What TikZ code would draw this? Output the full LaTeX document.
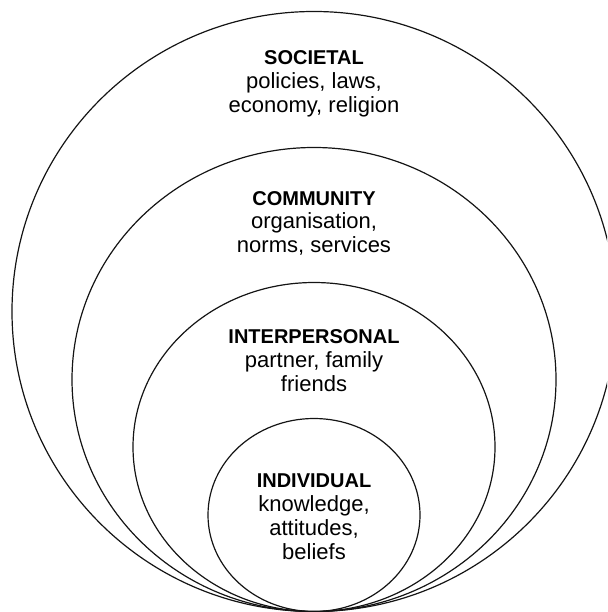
\documentclass[tikz,border=0pt]{standalone}
\usepackage{fontspec}
\setmainfont{Liberation Sans}
\begin{document}
\begin{tikzpicture}[x=1pt,y=-1pt,
  ring/.style={draw=black!92,line width=1.2pt},
  head/.style={anchor=base,inner sep=0pt,font=\fontsize{20}{24}\selectfont\bfseries},
  body/.style={anchor=base,inner sep=0pt,font=\fontsize{22}{26}\selectfont}]
  \useasboundingbox (0,0) rectangle (607,612);
  \clip (0,0) rectangle (607,612);
  % nested rings, all touching at the bottom
  \draw[ring] (314,311.5) ellipse [x radius=302,y radius=300];
  \draw[ring] (314,379.5) ellipse [x radius=242,y radius=232];
  \draw[ring] (314,447) ellipse [x radius=181,y radius=164.5];
  \draw[ring] (314,515) ellipse [x radius=106,y radius=96.5];
  % societal level
  \node[head] (soc) at (314,65) {SOCIETAL};
  \node[body] (soc1) at (314,89) {policies, laws,};
  \node[body] (soc2) at (314,112.5) {economy, religion};
  % community level
  \node[head] (com) at (314,205) {COMMUNITY};
  \node[body] (com1) at (314,228.5) {organisation,};
  \node[body] (com2) at (314,252) {norms, services};
  % interpersonal level
  \node[head] (int) at (314,343) {INTERPERSONAL};
  \node[body] (int1) at (314,367) {partner, family};
  \node[body] (int2) at (314,391) {friends};
  % individual level
  \node[head] (ind) at (314,487) {INDIVIDUAL};
  \node[body] (ind1) at (314,511) {knowledge,};
  \node[body] (ind2) at (314,535) {attitudes,};
  \node[body] (ind3) at (314,559) {beliefs};
\end{tikzpicture}
\end{document}
